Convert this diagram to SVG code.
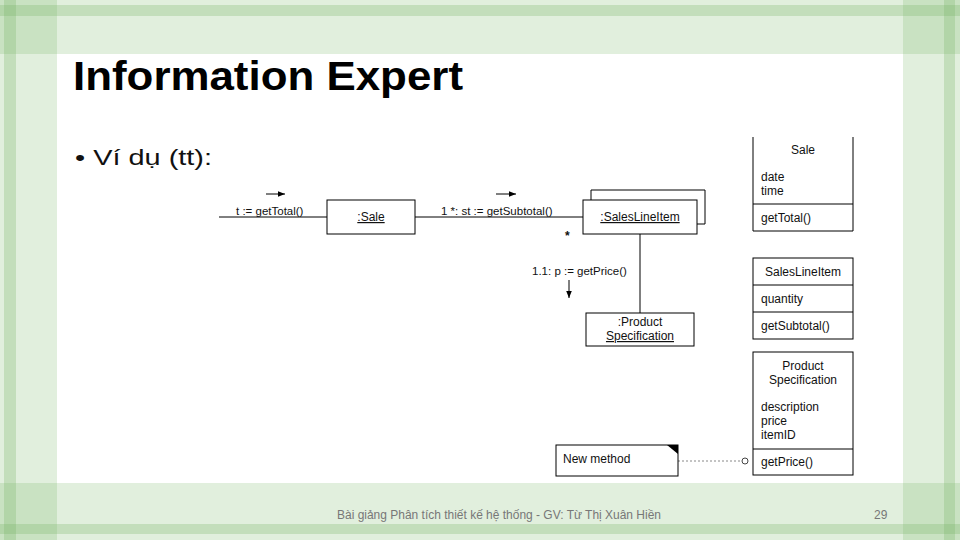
<svg xmlns="http://www.w3.org/2000/svg" width="960" height="540" viewBox="0 0 960 540">
<defs>
<style>
.band{fill:#78b464;fill-opacity:0.22}
.strip{fill:#78b464;fill-opacity:0.28}
.box{fill:#ffffff;stroke:#000;stroke-width:1}
.ln{stroke:#000;stroke-width:1;fill:none}
.t{font-family:"Liberation Sans",Arial,sans-serif;font-size:12px;fill:#111}
.m{font-family:"Liberation Sans",Arial,sans-serif;font-size:11.5px;fill:#111}
.c{text-anchor:middle}
.u{text-decoration:underline}
</style>
<marker id="ah" viewBox="0 0 10 10" refX="10" refY="5" markerWidth="7" markerHeight="7" markerUnits="userSpaceOnUse" orient="auto">
<path d="M0,1 L10,5 L0,9 Z" fill="#000"/>
</marker>
</defs>
<rect width="960" height="540" fill="#ffffff"/>
<g id="background">
<rect class="band" x="0" y="0" width="960" height="54"/>
<rect class="band" x="0" y="483" width="960" height="57"/>
<rect class="band" x="0" y="0" width="57" height="540"/>
<rect class="band" x="903" y="0" width="57" height="540"/>
<rect class="strip" x="0" y="5" width="960" height="11"/>
<rect class="strip" x="0" y="524" width="960" height="10"/>
<rect class="strip" x="4" y="0" width="12" height="540"/>
<rect class="strip" x="944" y="0" width="11" height="540"/>
</g>
<g id="title">
<text x="73" y="90" font-family="'Liberation Sans',Arial,sans-serif" font-size="40" font-weight="bold" fill="#000" textLength="390" lengthAdjust="spacingAndGlyphs">Information Expert</text>
</g>
<g id="bullet">
<text x="75" y="165" font-family="'Liberation Sans',Arial,sans-serif" font-size="22" fill="#111" textLength="137" lengthAdjust="spacingAndGlyphs">• Ví dụ (tt):</text>
</g>
<g id="connectors">
<line class="ln" x1="219" y1="217" x2="327" y2="217" stroke="#666"/>
<line class="ln" x1="415" y1="217" x2="583" y2="217" stroke="#666"/>
<line class="ln" x1="640" y1="234" x2="640" y2="313"/>
<line class="ln" x1="266" y1="194" x2="285" y2="194" marker-end="url(#ah)"/>
<line class="ln" x1="496" y1="194" x2="516" y2="194" marker-end="url(#ah)"/>
<line class="ln" x1="569" y1="280" x2="569" y2="298" marker-end="url(#ah)"/>
<line x1="678" y1="461" x2="742" y2="461" stroke="#888" stroke-width="1" stroke-dasharray="2,2"/>
<circle cx="745" cy="461" r="3" fill="#fff" stroke="#444" stroke-width="1"/>
</g>
<g id="labels">
<text class="m" x="236" y="215">t := getTotal()</text>
<text class="m" x="441" y="215">1 *: st := getSubtotal()</text>
<text class="t" x="565" y="240" font-size="17" font-weight="bold">*</text>
<text class="m" x="532" y="275">1.1: p := getPrice()</text>
</g>
<g id="obj-sale">
<rect class="box" x="327" y="200" width="88" height="34"/>
<text class="t c u" x="371" y="221">:Sale</text>
</g>
<g id="obj-saleslineitem">
<polyline class="ln" points="591,200 591,190 705,190 705,224 697,224"/>
<rect class="box" x="583" y="200" width="114" height="34"/>
<text class="t c u" x="640" y="221">:SalesLineItem</text>
</g>
<g id="obj-productspec">
<rect class="box" x="586" y="313" width="108" height="33"/>
<text class="t c" x="640" y="326">:Product</text>
<text class="t c u" x="640" y="340">Specification</text>
</g>
<g id="class-sale">
<polyline class="ln" points="753,137 753,231 853,231 853,137"/>
<line class="ln" x1="753" y1="204" x2="853" y2="204"/>
<text class="t c" x="803" y="154">Sale</text>
<text class="t" x="761" y="181">date</text>
<text class="t" x="761" y="195">time</text>
<text class="t" x="761" y="222">getTotal()</text>
</g>
<g id="class-saleslineitem">
<rect class="box" x="753" y="258" width="100" height="81"/>
<line class="ln" x1="753" y1="285" x2="853" y2="285"/>
<line class="ln" x1="753" y1="312" x2="853" y2="312"/>
<text class="t c" x="803" y="276">SalesLineItem</text>
<text class="t" x="761" y="303">quantity</text>
<text class="t" x="761" y="330">getSubtotal()</text>
</g>
<g id="class-productspec">
<rect class="box" x="753" y="352" width="100" height="123"/>
<line class="ln" x1="753" y1="449" x2="853" y2="449"/>
<text class="t c" x="803" y="370">Product</text>
<text class="t c" x="803" y="384">Specification</text>
<text class="t" x="761" y="411">description</text>
<text class="t" x="761" y="425">price</text>
<text class="t" x="761" y="439">itemID</text>
<text class="t" x="761" y="466">getPrice()</text>
</g>
<g id="note">
<rect class="box" x="556" y="445" width="122" height="31"/>
<polygon points="667,445 678,445 678,454" fill="#000"/>
<text class="t" x="563" y="463">New method</text>
</g>
<g id="footer">
<text x="499" y="519" text-anchor="middle" font-family="'Liberation Sans',Arial,sans-serif" font-size="12" fill="#777" textLength="324" lengthAdjust="spacingAndGlyphs">Bài giảng Phân tích thiết kế hệ thống - GV: Từ Thị Xuân Hiền</text>
<text x="874" y="519" font-family="'Liberation Sans',Arial,sans-serif" font-size="12" fill="#777">29</text>
</g>
</svg>
